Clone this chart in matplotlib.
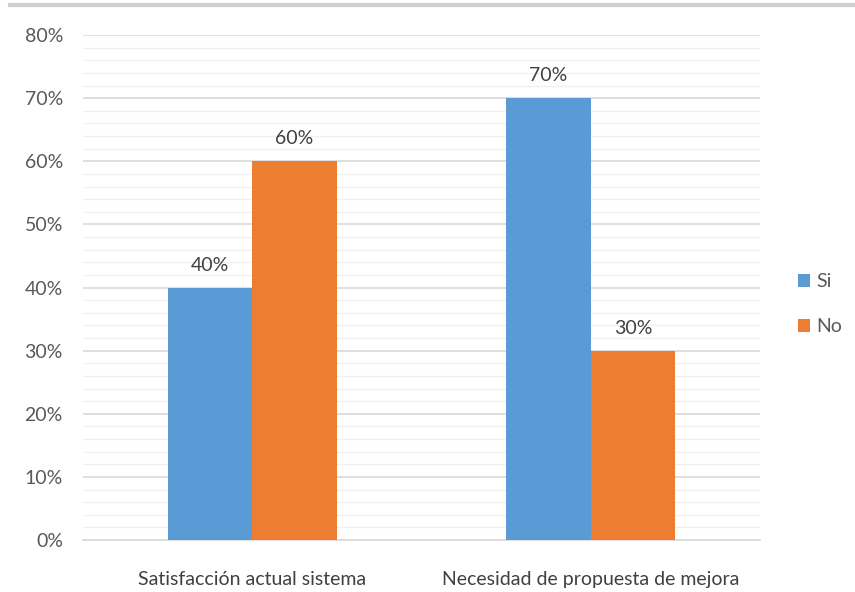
import matplotlib.pyplot as plt
import numpy as np
from matplotlib.lines import Line2D
from matplotlib.ticker import MultipleLocator, PercentFormatter

categories = ["Satisfacción actual sistema", "Necesidad de propuesta de mejora"]
series = ["Si", "No"]
si_values = [40, 70]
no_values = [60, 30]
colors = ["#5B9BD5", "#ED7D31"]

plt.rcParams["font.family"] = ["Lato", "DejaVu Sans"]

fig = plt.figure(figsize=(8.55, 5.92), dpi=100)
ax = fig.add_axes([0.0971, 0.0878, 0.7918, 0.8530])

x = np.arange(len(categories))
width = 0.25

for offset, vals, name, color in zip([-width / 2, width / 2], [si_values, no_values], series, colors):
    bars = ax.bar(x + offset, vals, width, color=color, label=name, zorder=3)
    for b, v in zip(bars, vals):
        ax.text(b.get_x() + b.get_width() / 2, v + 2.2, f"{v}%", ha="center", va="bottom",
                fontsize=14, color="#404040")

ax.set_xlim(-0.5, 1.5)
ax.set_ylim(0, 80)
ax.yaxis.set_major_locator(MultipleLocator(10))
ax.yaxis.set_minor_locator(MultipleLocator(2))
ax.yaxis.set_major_formatter(PercentFormatter(decimals=0))
ax.grid(axis="y", which="major", color="#D9D9D9", linewidth=1.2, zorder=0)
ax.grid(axis="y", which="minor", color="#F0F0F0", linewidth=1.0, zorder=0)
ax.set_axisbelow(True)

ax.set_xticks(x)
ax.set_xticklabels(categories)
ax.tick_params(axis="both", which="both", length=0, labelsize=14, colors="#595959")
ax.tick_params(axis="x", pad=22, labelcolor="#404040")
ax.tick_params(axis="y", pad=14.5)

for s in ["top", "right", "left"]:
    ax.spines[s].set_visible(False)
ax.spines["bottom"].set_color("#D9D9D9")
ax.spines["bottom"].set_linewidth(1.2)

ax.legend(loc="center left", bbox_to_anchor=(1.03, 0.467), frameon=False, fontsize=14,
          handlelength=0.65, handleheight=0.65, handletextpad=0.3, labelspacing=1.45,
          labelcolor="#595959")

fig.add_artist(Line2D([10 / 855, 1.0], [1 - 5 / 592, 1 - 5 / 592], transform=fig.transFigure,
                      color="#D0D0D0", linewidth=3))

fig.savefig("out.png", dpi=100)
